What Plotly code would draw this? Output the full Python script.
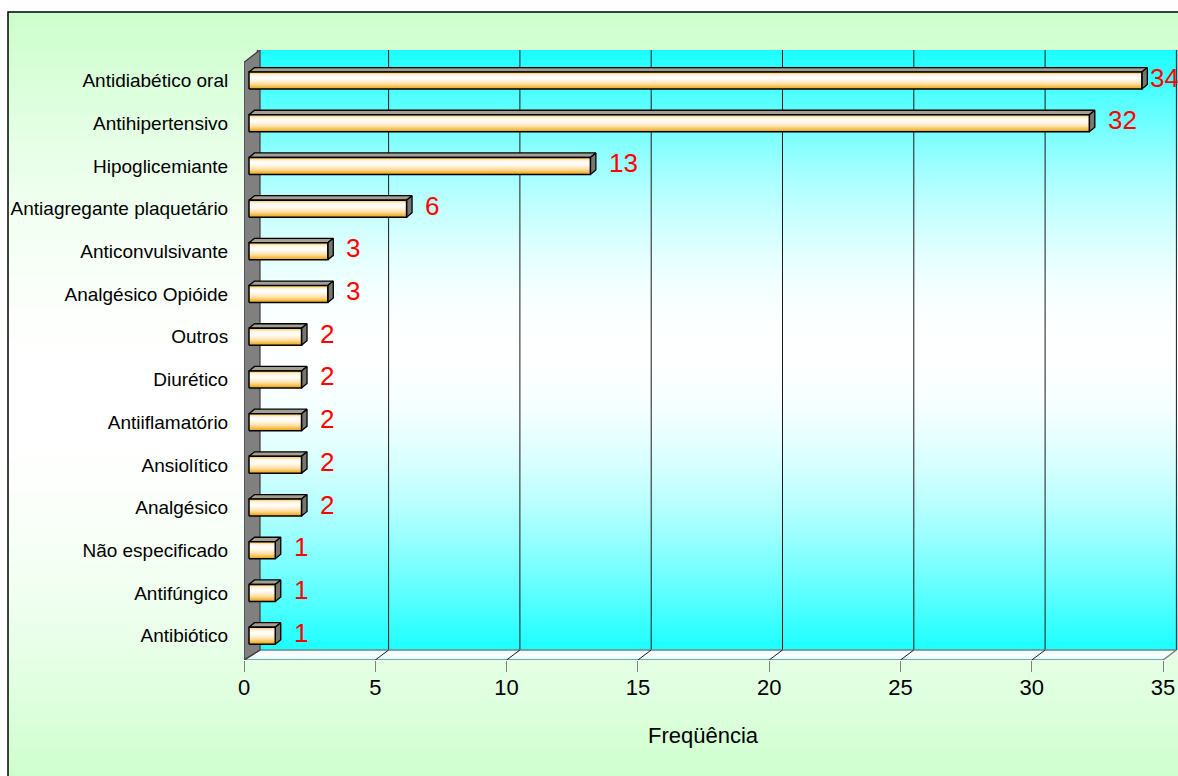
import math
import plotly.graph_objects as go

# ---------------- data ----------------
categories = ["Antibiótico", "Antifúngico", "Não especificado", "Analgésico",
              "Ansiolítico", "Antiiflamatório", "Diurético", "Outros",
              "Analgésico Opióide", "Anticonvulsivante", "Antiagregante plaquetário",
              "Hipoglicemiante", "Antihipertensivo", "Antidiabético oral"]
values = [1, 1, 1, 2, 2, 2, 2, 2, 3, 3, 6, 13, 32, 34]
x_ticks = [0, 5, 10, 15, 20, 25, 30, 35]
x_title = "Freqüência"

# ---------------- geometry / style ----------------
W, H = 1178, 776
ML, MT, MB, MR = 244, 50, 116, 0
PW = W - ML - MR
PH = H - MT - MB
PXU = 26.26                    # pixels per x unit
PYU = 42.7                     # pixels per category
XMAX = PW / PXU
YMIN = -0.5
YMAX = YMIN + PH / PYU
N = len(categories)
FONT = "Liberation Sans, Arial, sans-serif"
LABEL_SIZE = 26


def dx(p):
    return p / PXU


def dy(p):
    return p / PYU


def hex2rgb(h):
    h = h.lstrip('#')
    return tuple(int(h[i:i + 2], 16) for i in (0, 2, 4))


def mix(c1, c2, w):
    a, b = hex2rgb(c1), hex2rgb(c2)
    return 'rgb(%d,%d,%d)' % tuple(round(a[i] + (b[i] - a[i]) * w) for i in range(3))


def edge_center(edge, p):
    t = 1 - abs(2 * p - 1)
    return mix(edge, '#FFFFFF', math.sin(t * math.pi / 2))


WALL_SCALE = [[k / 20, edge_center('#1AFFFF', k / 20)] for k in range(21)]
BAR_SCALE = [[0, '#E8A020'], [0.12, '#F5B840'], [0.3, '#FFDFA0'], [0.55, '#FFF8EE'],
             [0.7, '#FFFFFF'], [0.85, '#FFF0D2'], [0.94, '#F8D070'], [1, '#E8B030']]

fig = go.Figure()

# back wall
floor_back = YMIN + dy(10)
fig.add_trace(go.Scatter(
    x=[dx(16), XMAX, XMAX, dx(16), dx(16)],
    y=[floor_back, floor_back, YMAX, YMAX, floor_back],
    fill='toself', mode='lines', line=dict(width=0),
    fillgradient=dict(type='vertical', colorscale=WALL_SCALE),
    hoverinfo='skip', showlegend=False))

# gridlines on back wall
gx, gy = [], []
for t in x_ticks:
    gx += [t + dx(13.3), t + dx(13.3), None]
    gy += [floor_back, YMAX, None]
fig.add_trace(go.Scatter(x=gx, y=gy, mode='lines', line=dict(color='#1a1a1a', width=1),
                         hoverinfo='skip', showlegend=False))

# floor
fx = [0, dx(16), x_ticks[-1] + dx(13.3), x_ticks[-1], 0]
fy = [YMIN, floor_back, floor_back, YMIN, YMIN]
fig.add_trace(go.Scatter(
    x=fx, y=fy, fill='toself', mode='lines', line=dict(color='#808080', width=1.5),
    fillgradient=dict(type='vertical', colorscale=[[0, '#C8FFFF'], [0.5, '#FFFFFF'], [1, '#D8FFFF']]),
    hoverinfo='skip', showlegend=False))
dgx, dgy = [], []
for t in x_ticks[1:-1]:
    dgx += [t, t + dx(13.3), None]
    dgy += [YMIN, floor_back, None]
fig.add_trace(go.Scatter(x=dgx, y=dgy, mode='lines', line=dict(color='#1a1a1a', width=1),
                         hoverinfo='skip', showlegend=False))

# side wall
fig.add_trace(go.Scatter(
    x=[0, 0, dx(16), dx(16), 0],
    y=[YMIN, N - 0.5, YMAX, floor_back, YMIN],
    fill='toself', fillcolor='#808080', mode='lines',
    line=dict(color='#3a3a3a', width=1.2), hoverinfo='skip', showlegend=False))

# bars
BX, BYC, BH, TDX, TDY = 5, 3, 17, 5.5, 4.5
tx, ty, ex, ey = [], [], [], []
for i, v in enumerate(values):
    x0, x1 = dx(BX), v + dx(BX)
    yc = i + dy(BYC)
    y0, y1 = yc - dy(BH / 2), yc + dy(BH / 2)
    tx += [x0, x0 + dx(TDX), x1 + dx(TDX), x1, x0, None]
    ty += [y1, y1 + dy(TDY), y1 + dy(TDY), y1, y1, None]
    ex += [x1, x1 + dx(TDX), x1 + dx(TDX), x1, x1, None]
    ey += [y1, y1 + dy(TDY), y0 + dy(TDY), y0, y1, None]
fig.add_trace(go.Scatter(x=tx, y=ty, fill='toself', fillcolor='#A39F97', mode='lines',
                         line=dict(color='black', width=1.3), hoverinfo='skip', showlegend=False))
fig.add_trace(go.Scatter(x=ex, y=ey, fill='toself', fillcolor='#77776F', mode='lines',
                         line=dict(color='black', width=1.3), hoverinfo='skip', showlegend=False))
for i, v in enumerate(values):
    x0, x1 = dx(BX), v + dx(BX)
    yc = i + dy(BYC)
    y0, y1 = yc - dy(BH / 2), yc + dy(BH / 2)
    fig.add_trace(go.Scatter(
        x=[x0, x1, x1, x0, x0], y=[y0, y0, y1, y1, y0],
        fill='toself', mode='lines', line=dict(color='black', width=1.5),
        fillgradient=dict(type='vertical', colorscale=BAR_SCALE),
        hoverinfo='skip', showlegend=False))

# value labels (kept inside the figure)
annotations = []
for i, v in enumerate(values):
    xa = v + dx(BX + TDX)
    start_px = ML + xa * PXU + 11
    text_w = 0.556 * LABEL_SIZE * len(str(v))
    shift = 11 - max(0, start_px + text_w + 1 - W)
    annotations.append(dict(
        x=xa, y=i + dy(BYC), xref='x', yref='y',
        text=str(v), showarrow=False, xanchor='left', yanchor='middle',
        xshift=shift, yshift=3,
        font=dict(family=FONT, size=LABEL_SIZE, color='#FF0000')))
annotations.append(dict(
    x=(x_ticks[0] + x_ticks[-1]) / 2, y=-(735 - (H - MB)) / PH, xref='x', yref='paper',
    text=x_title, showarrow=False, xanchor='center', yanchor='middle',
    font=dict(family=FONT, size=22, color='black')))

# frame background (vertical gradient) and border
shapes = []
FT, FB = 12, 790
step = 4
for py in range(FT, H, step):
    p = ((py + step / 2) - FT) / (FB - FT)
    shapes.append(dict(type='rect', xref='paper', yref='paper', layer='below',
                       x0=(8 - ML) / PW, x1=(W + 40 - ML) / PW,
                       y0=((H - MB) - py) / PH, y1=((H - MB) - py - step - 0.5) / PH,
                       line=dict(width=0), fillcolor=edge_center('#CCFFCC', p)))
shapes.append(dict(type='rect', xref='paper', yref='paper', layer='below',
                   x0=(8 - ML) / PW, x1=(W + 40 - ML) / PW,
                   y0=((H - MB) - FT) / PH, y1=((H - MB) - (H + 40)) / PH,
                   line=dict(color='black', width=1.5), fillcolor='rgba(0,0,0,0)'))
# category boundary tick marks
for k in range(N + 1):
    b = k - 0.5
    shapes.append(dict(type='line', xref='x', xsizemode='pixel', xanchor=0, x0=-11, x1=0,
                       yref='y', y0=b, y1=b, line=dict(color='black', width=1)))

fig.update_layout(
    width=W, height=H, autosize=False,
    margin=dict(l=ML, r=MR, t=MT, b=MB, pad=0),
    paper_bgcolor='white', plot_bgcolor='rgba(0,0,0,0)',
    showlegend=False,
    shapes=shapes, annotations=annotations,
    xaxis=dict(range=[0, XMAX], tickvals=x_ticks, ticks='outside', ticklen=11,
               tickcolor='#808080', tickwidth=1.3, showgrid=False, zeroline=False,
               showline=False, ticklabelstandoff=-3,
               tickfont=dict(family=FONT, size=22, color='black'),
               fixedrange=True),
    yaxis=dict(range=[YMIN, YMAX], tickvals=list(range(N)), ticktext=categories,
               ticks='outside', ticklen=11, tickcolor='rgba(0,0,0,0)', showgrid=False,
               zeroline=False, showline=False, ticklabelshift=-3,
               tickfont=dict(family=FONT, size=19, color='black'), fixedrange=True),
)

fig.write_html("out.html", config={'displayModeBar': False})
